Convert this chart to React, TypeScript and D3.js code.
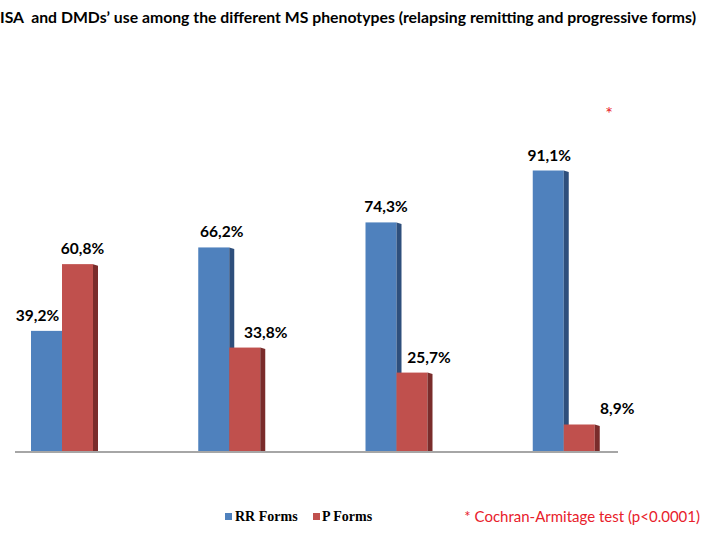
import React from "react";
import * as d3 from "d3";

const categories = ["Group 1", "Group 2", "Group 3", "Group 4"];
const seriesNames = ["RR Forms", "P Forms"];
const rrValues = [39.2, 66.2, 74.3, 91.1];
const pValues = [60.8, 33.8, 25.7, 8.9];
const rrLabels = ["39,2%", "66,2%", "74,3%", "91,1%"];
const pLabels = ["60,8%", "33,8%", "25,7%", "8,9%"];
// label nudges (style only)
const rrLabelDx = [-9, 8, 5, 1];
const pLabelDx = [5, 21, 17, 38];

const W = 707;
const H = 552;
const baseY = 452;
const pxPerUnit = 3.09;

const bodyColors = ["#4f81bd", "#c0504d"];
const edgeColors = ["#2e4f7c", "#7a2c2b"];

export default function App() {
  const x0 = d3.scaleBand<string>().domain(categories).range([31, 700]).paddingInner(0).paddingOuter(0).align(0);
  const x1 = d3.scaleBand<string>().domain(seriesNames).range([0, 62]).padding(0);
  const y = d3.scaleLinear().domain([0, 100]).range([baseY, baseY - 100 * pxPerUnit]);
  const edgeW = 5;
  const seriesData = [
    { name: seriesNames[0], values: rrValues, labels: rrLabels, dx: rrLabelDx },
    { name: seriesNames[1], values: pValues, labels: pLabels, dx: pLabelDx },
  ];
  const bw = x1.bandwidth();

  return (
    <svg width={W} height={H} style={{ position: "absolute", left: 0, top: 0, background: "#fff" }}>
      <rect x={0} y={0} width={W} height={H} fill="#fff" />
      <text x={0} y={23} fontFamily="Lato, 'Open Sans', sans-serif" fontWeight="bold" fontSize={16}
        textLength={696} lengthAdjust="spacingAndGlyphs" style={{ whiteSpace: "pre" }} fill="#000">
        {"ISA  and DMDs\u2019 use among the different MS phenotypes (relapsing remitting and progressive forms)"}
      </text>
      <text x={609} y={120} fontFamily="Lato, sans-serif" fontSize={18} fill="#e8202a" textAnchor="middle">*</text>

      {seriesData.map((s, si) => (
        <g key={s.name}>
          {categories.map((c, ci) => {
            const bx = (x0(c) as number) + (x1(s.name) as number);
            const top = y(s.values[ci]);
            return (
              <g key={c}>
                <rect x={bx} y={top} width={bw} height={baseY - top} fill={bodyColors[si]} />
                <polygon
                  points={`${bx + bw},${top} ${bx + bw + edgeW},${top + 1.5} ${bx + bw + edgeW},${baseY} ${bx + bw},${baseY}`}
                  fill={edgeColors[si]}
                />
              </g>
            );
          })}
        </g>
      ))}

      {seriesData.map((s, si) => (
        <g key={s.name + "-lab"}>
          {categories.map((c, ci) => {
            const bx = (x0(c) as number) + (x1(s.name) as number);
            const top = y(s.values[ci]);
            return (
              <text key={c} x={bx + bw / 2 + s.dx[ci]} y={top - 10} textAnchor="middle"
                fontFamily="Lato, 'Open Sans', sans-serif" fontWeight="bold" fontSize={15.5} fill="#000">
                {s.labels[ci]}
              </text>
            );
          })}
        </g>
      ))}

      <line x1={15} x2={618} y1={baseY} y2={baseY} stroke="#a6a6a6" strokeWidth={2} />

      {/* legend */}
      <g fontFamily="'Liberation Serif', 'Times New Roman', serif" fontWeight="bold" fontSize={14}>
        <rect x={225} y={513} width={7} height={7} fill={bodyColors[0]} />
        <text x={235} y={521} fill="#000">{seriesNames[0]}</text>
        <rect x={313} y={513} width={7} height={7} fill={bodyColors[1]} />
        <text x={322} y={521} fill="#000">{seriesNames[1]}</text>
      </g>

      <text x={700} y={522} textAnchor="end" fontFamily="Lato, 'Open Sans', sans-serif" fontSize={15} fill="#e8202a">
        * Cochran-Armitage test (p&lt;0.0001)
      </text>
    </svg>
  );
}
